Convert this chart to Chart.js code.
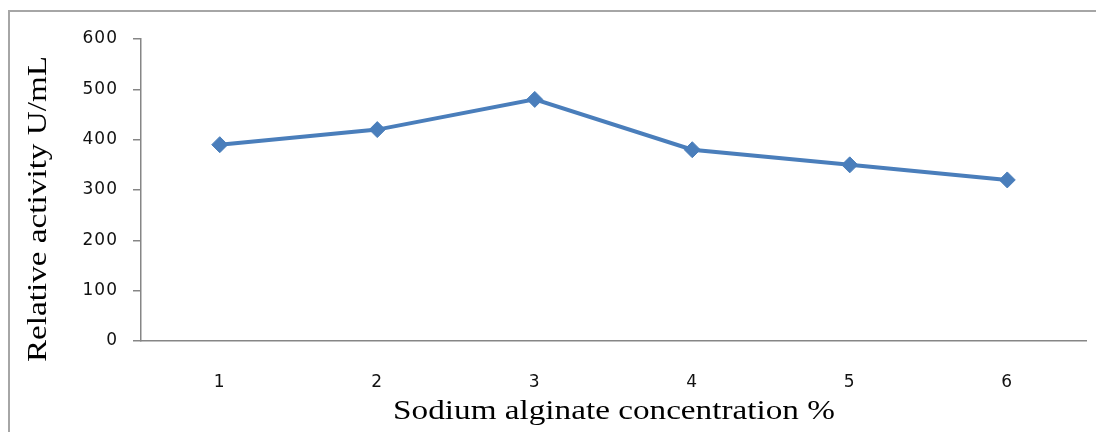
<!DOCTYPE html>
<html>
<head>
<meta charset="utf-8">
<script src="https://cdn.jsdelivr.net/npm/chart.js@4/dist/chart.umd.min.js"></script>
<style>
  html, body { margin: 0; padding: 0; background: #fff; overflow: hidden; }
  #frame { position: absolute; left: 8px; top: 10px; width: 1200px; height: 600px;
           border-left: 2px solid #a6a6a6; border-top: 2px solid #a6a6a6; }
  #wrap { position: absolute; left: 0; top: 0; width: 1096px; height: 432px; }
</style>
</head>
<body>
<div id="frame"></div>
<div id="wrap"><canvas id="activityChart" width="1096" height="432"></canvas></div>
<script>
// values
const concentrations = ['1', '2', '3', '4', '5', '6'];
const activity = [390, 420, 480, 380, 350, 320];
const yMin = 0;
const yMax = 600;
const yStep = 100;

const xTitle = 'Sodium alginate concentration %';
const yTitle = 'Relative activity U/mL';

const axisGray = '#868686';
const lineBlue = '#4a7ebb';

// the original's tick text is set a little wide
const spacingPlugin = {
  id: 'tickSpacing',
  beforeDraw(chart) {
    chart.ctx.letterSpacing = '1px';
  }
};

// axis titles drawn where the original has them (glyphs stretched along the text like the source)
const titlePlugin = {
  id: 'axisTitles',
  afterDraw(chart) {
    const ctx = chart.ctx;
    const stretch = 1.23;
    ctx.save();
    ctx.fillStyle = '#000';
    ctx.font = '27px "Liberation Serif"';
    ctx.letterSpacing = '0px';
    ctx.textAlign = 'center';
    ctx.textBaseline = 'alphabetic';

    ctx.save();
    ctx.translate(614, 419);
    ctx.scale(stretch, 1);
    ctx.fillText(xTitle, 0, 0);
    ctx.restore();

    ctx.save();
    ctx.translate(46, 209);
    ctx.rotate(-Math.PI / 2);
    ctx.scale(stretch, 1);
    ctx.fillText(yTitle, 0, 0);
    ctx.restore();

    ctx.restore();
  }
};

const ctx = document.getElementById('activityChart').getContext('2d');
new Chart(ctx, {
  type: 'line',
  data: {
    labels: concentrations,
    datasets: [{
      label: 'Relative activity',
      data: activity,
      borderColor: lineBlue,
      backgroundColor: lineBlue,
      borderWidth: 4,
      pointStyle: 'rectRot',
      pointRadius: 8,
      pointBorderWidth: 1,
      pointBackgroundColor: lineBlue,
      pointBorderColor: lineBlue,
      tension: 0
    }]
  },
  options: {
    responsive: false,
    animation: false,
    layout: { padding: { top: 39, right: 10, bottom: 0, left: 0 } },
    plugins: {
      legend: { display: false },
      tooltip: { enabled: false }
    },
    scales: {
      x: {
        offset: true,
        grid: { display: false },
        border: { display: true, color: axisGray, width: 1.5 },
        ticks: {
          padding: 23,
          color: '#111',
          font: { family: 'DejaVu Sans', size: 17 }
        },
        afterFit(scale) { scale.height = 91; }
      },
      y: {
        min: yMin,
        max: yMax,
        grid: { drawOnChartArea: false, drawTicks: true, tickLength: 8, color: axisGray, lineWidth: 1.5 },
        border: { display: true, color: axisGray, width: 1.5 },
        ticks: {
          stepSize: yStep,
          padding: 15,
          color: '#111',
          font: { family: 'DejaVu Sans', size: 17 }
        },
        afterFit(scale) { scale.width = 141; }
      }
    }
  },
  plugins: [spacingPlugin, titlePlugin]
});
</script>
</body>
</html>
